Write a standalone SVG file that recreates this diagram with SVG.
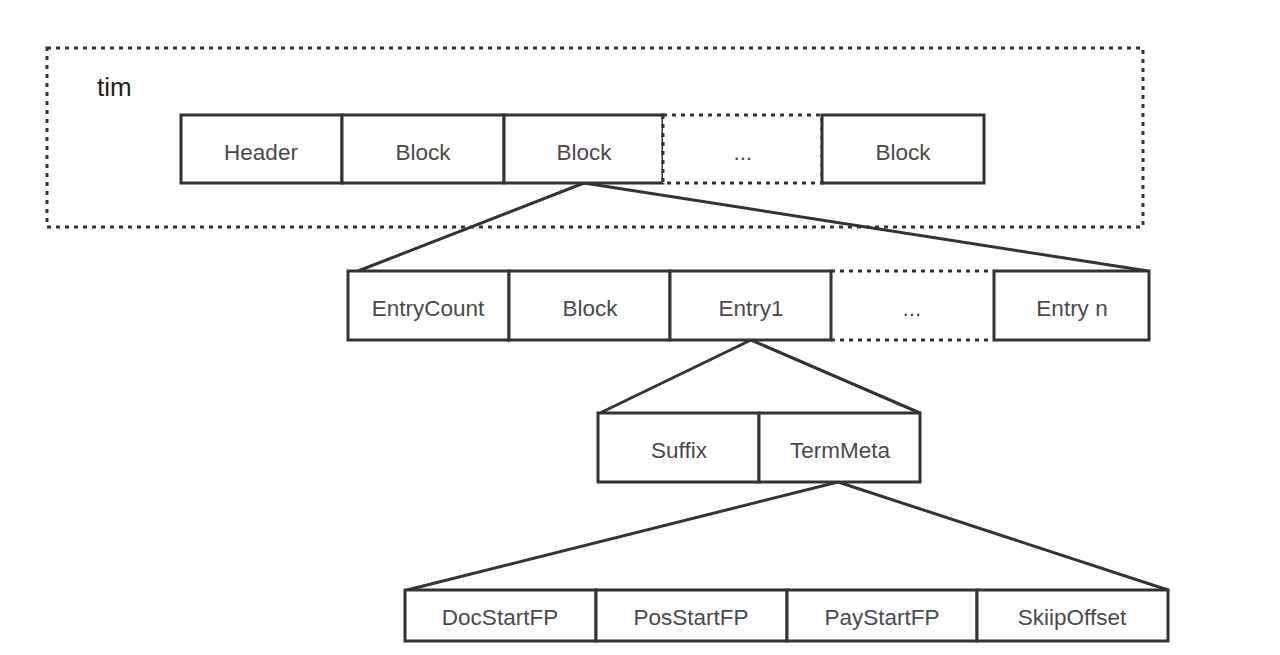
<svg xmlns="http://www.w3.org/2000/svg" width="1280" height="655" viewBox="0 0 1280 655">
<style>
.box{fill:#fff;stroke:#333;stroke-width:3}
.dash{fill:#fff;stroke:#333;stroke-width:3;stroke-dasharray:4 5}
.t{font-family:"Liberation Sans",Arial,sans-serif;font-size:22.5px;fill:#4a4a4a;text-anchor:middle;dominant-baseline:central}
.ln{stroke:#333;stroke-width:3;fill:none}
</style>
<rect width="1280" height="655" fill="#fff"/>
<g id="tim">
<rect x="47" y="48" width="1096" height="179" fill="none" stroke="#333" stroke-width="3" stroke-dasharray="4 5"/>
<text x="97" y="96" style="font-family:'Liberation Sans',Arial,sans-serif;font-size:26px;fill:#222">tim</text>
</g>
<g id="connectors">
<path class="ln" d="M584 183 L358 271 M584 183 L1148 271"/>
<path class="ln" d="M751 340 L600 413 M751 340 L920 413"/>
<path class="ln" d="M838 482 L407 590 M838 482 L1168 590"/>
</g>
<g id="header"><rect class="box" x="181" y="115" width="161" height="68"/><text class="t" x="261" y="152">Header</text></g>
<g id="block1"><rect class="box" x="342" y="115" width="162" height="68"/><text class="t" x="423" y="152">Block</text></g>
<g id="block2"><rect class="box" x="504" y="115" width="159" height="68"/><text class="t" x="584" y="152">Block</text></g>
<g id="ellipsis1"><rect class="dash" x="663" y="115" width="159" height="68"/><text class="t" x="743" y="152">...</text></g>
<g id="block3"><rect class="box" x="822" y="115" width="162" height="68"/><text class="t" x="903" y="152">Block</text></g>

<g id="entrycount"><rect class="box" x="348" y="271" width="161" height="69"/><text class="t" x="428" y="308">EntryCount</text></g>
<g id="block4"><rect class="box" x="509" y="271" width="161" height="69"/><text class="t" x="590" y="308">Block</text></g>
<g id="entry1"><rect class="box" x="670" y="271" width="161" height="69"/><text class="t" x="751" y="308">Entry1</text></g>
<g id="ellipsis2"><path class="dash" d="M831 271 H994 M831 340 H994"/><text class="t" x="912" y="308">...</text></g>
<g id="entryn"><rect class="box" x="994" y="271" width="155" height="69"/><text class="t" x="1072" y="308">Entry n</text></g>

<g id="suffix"><rect class="box" x="598" y="413" width="161" height="69"/><text class="t" x="679" y="450">Suffix</text></g>
<g id="termmeta"><rect class="box" x="759" y="413" width="161" height="69"/><text class="t" x="840" y="450">TermMeta</text></g>

<g id="docstartfp"><rect class="box" x="405" y="590" width="191" height="51"/><text class="t" x="500" y="617">DocStartFP</text></g>
<g id="posstartfp"><rect class="box" x="596" y="590" width="191" height="51"/><text class="t" x="691" y="617">PosStartFP</text></g>
<g id="paystartfp"><rect class="box" x="787" y="590" width="190" height="51"/><text class="t" x="882" y="617">PayStartFP</text></g>
<g id="skiipoffset"><rect class="box" x="977" y="590" width="191" height="51"/><text class="t" x="1072" y="617">SkiipOffset</text></g>
</svg>
